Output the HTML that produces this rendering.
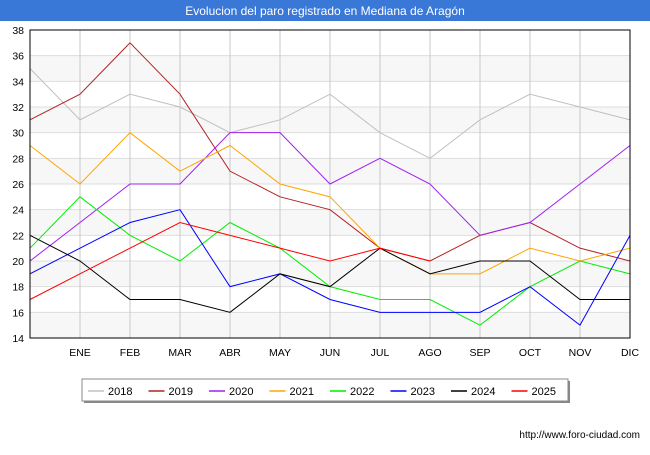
<!DOCTYPE html>
<html><head><meta charset="utf-8"><style>
body{margin:0;background:#fff;font-family:"Liberation Sans",sans-serif;}
svg text{font-family:"Liberation Sans",sans-serif;}
</style></head><body>
<svg id="chart" width="650" height="450" xmlns="http://www.w3.org/2000/svg">
<rect x="0" y="0" width="650" height="450" fill="#fff"/>
<rect x="0" y="0" width="650" height="21" fill="#3a78d8"/>
<text x="325" y="15" text-anchor="middle" font-size="12" fill="#fff">Evolucion del paro registrado en Mediana de Aragón</text>
<g id="plot"></g>
<g id="legend"></g>
<text x="640" y="438" text-anchor="end" font-size="10" fill="#000">http://www.foro-ciudad.com</text>
</svg>
<script>
const months=["","ENE","FEB","MAR","ABR","MAY","JUN","JUL","AGO","SEP","OCT","NOV","DIC"];
const yTicks=[14,16,18,20,22,24,26,28,30,32,34,36,38];
const seriesNames=["2018","2019","2020","2021","2022","2023","2024","2025"];
const seriesColors=["#c0c0c0","#b22222","#a020f0","#ffa500","#00ee00","#0000ff","#000000","#ff0000"];
const s2018=[35,31,33,32,30,31,33,30,28,31,33,32,31];
const s2019=[31,33,37,33,27,25,24,21,20,22,23,21,20];
const s2020=[20,23,26,26,30,30,26,28,26,22,23,26,29];
const s2021=[29,26,30,27,29,26,25,21,19,19,21,20,21];
const s2022=[21,25,22,20,23,21,18,17,17,15,18,20,19];
const s2023=[19,21,23,24,18,19,17,16,16,16,18,15,22];
const s2024=[22,20,17,17,16,19,18,21,19,20,20,17,17];
const s2025=[17,19,21,23,22,21,20,21,20];
const allSeries=[s2018,s2019,s2020,s2021,s2022,s2023,s2024,s2025];
const NS="http://www.w3.org/2000/svg";
const L=30,R=630,T=30,B=338,yMin=14,yMax=38;
const xs=i=>L+(R-L)*i/(months.length-1);
const ys=v=>B-(v-yMin)*(B-T)/(yMax-yMin);
const plot=document.getElementById('plot');
function mk(tag,attrs,parent){const e=document.createElementNS(NS,tag);for(const k in attrs)e.setAttribute(k,attrs[k]);parent.appendChild(e);return e;}
for(let i=0;i<yTicks.length-1;i++){
  if(i%2===0){const r=mk('rect',{x:L,y:ys(yTicks[i+1]),width:R-L,height:ys(yTicks[i])-ys(yTicks[i+1]),fill:'#f7f7f7'},plot);
  
  }
}
yTicks.forEach(v=>{
  const l=mk('line',{x1:L,x2:R,y1:ys(v),y2:ys(v),stroke:'#dddddd','stroke-width':1},plot);
  
  
  const t=mk('text',{x:L-6,y:ys(v)+4,'text-anchor':'end','font-size':10.5,fill:'#000'},plot);
  t.textContent=v;
  
  
});
months.forEach((m,i)=>{
  const l=mk('line',{x1:xs(i),x2:xs(i),y1:T,y2:B,stroke:'#c8c8c8','stroke-width':1},plot);
  
  
  if(m){const t=mk('text',{x:xs(i),y:356,'text-anchor':'middle','font-size':10.5,fill:'#000'},plot);
  t.textContent=m;
  
  }
});
allSeries.forEach((s,k)=>{
  const p=mk('polyline',{points:s.map((v,i)=>xs(i)+','+ys(v)).join(' '),fill:'none',stroke:seriesColors[k],'stroke-width':1},plot);
  
  
});
const fr=mk('rect',{x:L,y:T,width:R-L,height:B-T,fill:'none',stroke:'#000','stroke-width':1},plot);


const lg=document.getElementById('legend');
const sh=mk('rect',{x:84,y:381,width:486,height:22,fill:'#888'},lg);


const box=mk('rect',{x:82,y:379,width:486,height:22,fill:'#fff',stroke:'#888'},lg);


seriesNames.forEach((n,k)=>{
  const x0=88+k*60.5;
  const l=mk('line',{x1:x0,x2:x0+16,y1:391,y2:391,stroke:seriesColors[k],'stroke-width':1.5},lg);
  
  
  const t=mk('text',{x:x0+20,y:395,'font-size':11,fill:'#000'},lg);
  t.textContent=n;
  
  
});
</script>
</body></html>
